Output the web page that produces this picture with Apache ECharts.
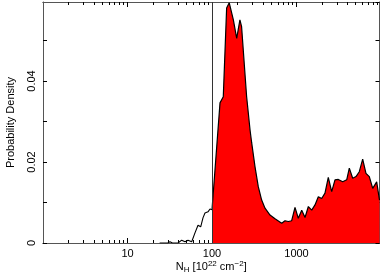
<!DOCTYPE html>
<html>
<head>
<meta charset="utf-8">
<script src="https://cdn.jsdelivr.net/npm/echarts@6/dist/echarts.min.js"></script>
<style>
html,body{margin:0;padding:0;background:#fff;}
#c{width:382px;height:273px;}
</style>
</head>
<body>
<div id="c"></div>
<script>
// Data
var lowX = [24, 30, 31.8, 34, 39.6, 43.8, 47.9, 52, 57.5, 62.9, 68.3, 73.5, 78.2, 82.6, 89.7, 94.7, 100];
var lowY = [0, 0, 0.0003, 0, 0, 0.0007, 0.0003, 0.0007, 0.0003, 0.0025, 0.0044, 0.004, 0.0062, 0.0074, 0.0077, 0.0084, 0.0082];
var highX = [100, 124.4, 136, 149, 160, 168, 179, 196, 214, 224, 257, 282, 295, 323, 353, 387, 424, 486, 557, 668, 731, 800, 877, 960, 1050, 1153, 1262, 1381, 1514, 1656, 1812, 1987, 2173, 2378, 2609, 2855, 3125, 3522, 3928, 4217, 4625, 5059, 5535, 6070, 6640, 7270, 7980, 8890, 9600];
var highY = [0.0082, 0.0346, 0.0361, 0.058, 0.0593, 0.059, 0.0551, 0.0505, 0.0551, 0.0534, 0.0361, 0.0279, 0.0247, 0.0188, 0.0139, 0.0106, 0.0086, 0.0069, 0.0060, 0.0049, 0.0055, 0.0053, 0.0055, 0.0088, 0.0061, 0.0081, 0.0063, 0.0090, 0.0081, 0.0094, 0.0114, 0.0110, 0.0123, 0.0162, 0.0127, 0.0156, 0.0157, 0.0151, 0.0156, 0.0185, 0.0160, 0.0164, 0.0176, 0.0207, 0.0172, 0.0164, 0.0135, 0.0151, 0.0106];
var xMajorTicks = [10, 100, 1000];
var xMinorTicks = [2,3,4,5,6,7,8,9,20,30,40,50,60,70,80,90,200,300,400,500,600,700,800,900,2000,3000,4000,5000,6000,7000,8000,9000];
var yTickLabels = [0, 0.02, 0.04];
var thresholdX = 100;
var xMin = 1, xMax = 9600, yMin = 0, yMax = 0.0595;

function pairs(xs, ys){ return xs.map(function(x,i){ return [x, ys[i]]; }); }

var font = 'Liberation Sans, Arial, sans-serif';
var frame = '#555';
function xAx(pos, ticks, len, showLabel, extra){
  var a = {
    type: 'log', logBase: 10, min: xMin, max: xMax, position: pos,
    axisLine: {show: true, onZero: false, lineStyle: {color: frame, width: 1}},
    axisTick: {show: true, inside: true, length: len, customValues: ticks, lineStyle: {color: '#000', width: 1}},
    axisLabel: {show: showLabel, customValues: ticks, margin: 5, fontSize: 11, fontFamily: font, color: '#000',
      formatter: function(v){ return String(Math.round(v)); }},
    splitLine: {show: false}, minorTick: {show: false}
  };
  for (var k in extra) a[k] = extra[k];
  return a;
}
function yAx(pos, showLabel, extra){
  var a = {
    type: 'value', min: yMin, max: yMax, interval: 0.01, position: pos,
    axisLine: {show: true, onZero: false, lineStyle: {color: frame, width: 1}},
    axisTick: {show: true, inside: true, length: 4, lineStyle: {color: '#000', width: 1}},
    axisLabel: {show: showLabel, rotate: 90, margin: 6, fontSize: 11, fontFamily: font, color: '#000',
      showMaxLabel: false,
      formatter: function(v){
        for (var i=0;i<yTickLabels.length;i++){ if (Math.abs(v-yTickLabels[i])<1e-9) return String(yTickLabels[i]); }
        return '';
      }},
    splitLine: {show: false}
  };
  for (var k in extra) a[k] = extra[k];
  return a;
}

var chart = echarts.init(document.getElementById('c'), null, {renderer: 'canvas'});
chart.setOption({
  animation: false,
  backgroundColor: '#fff',
  grid: {left: 43, right: 2.5, top: 2, bottom: 30, containLabel: false, outerBoundsMode: 'none'},
  xAxis: [
    xAx('bottom', xMajorTicks, 5, true, {
      name: '{n|N}{sub|H}{n| [10}{sup|22}{n| cm}{sup|\u22122}{n|]}',
      nameLocation: 'middle', nameGap: 17, nameMoveOverlap: false,
      nameTextStyle: {rich: {
        n: {fontSize: 11, fontFamily: font, color: '#000', lineHeight: 14},
        sub: {fontSize: 8, fontFamily: font, color: '#000', verticalAlign: 'bottom', lineHeight: 14},
        sup: {fontSize: 8, fontFamily: font, color: '#000', verticalAlign: 'top', lineHeight: 14}
      }}
    }),
    xAx('bottom', xMinorTicks, 3, false, {}),
    xAx('top', xMajorTicks, 5, false, {}),
    xAx('top', xMinorTicks, 3, false, {})
  ],
  yAxis: [
    yAx('left', true, {name: 'Probability Density', nameLocation: 'middle', nameGap: 27, nameRotate: 90,
      nameMoveOverlap: false,
      nameTextStyle: {fontSize: 11, fontFamily: font, color: '#000'}}),
    yAx('right', false, {})
  ],
  series: [
    {type: 'line', data: pairs(highX, highY), xAxisIndex: 0, yAxisIndex: 0, symbol: 'none',
      lineStyle: {color: '#000', width: 1.2}, areaStyle: {color: '#ff0000', opacity: 1}, z: 2,
      markLine: {silent: true, symbol: 'none', label: {show: false},
        lineStyle: {color: '#333', width: 1, type: 'solid'}, data: [{xAxis: thresholdX}]}},
    {type: 'line', data: pairs(lowX, lowY), xAxisIndex: 0, yAxisIndex: 0, symbol: 'none',
      lineStyle: {color: '#000', width: 1.1}, z: 3}
  ]
});
</script>
</body>
</html>
